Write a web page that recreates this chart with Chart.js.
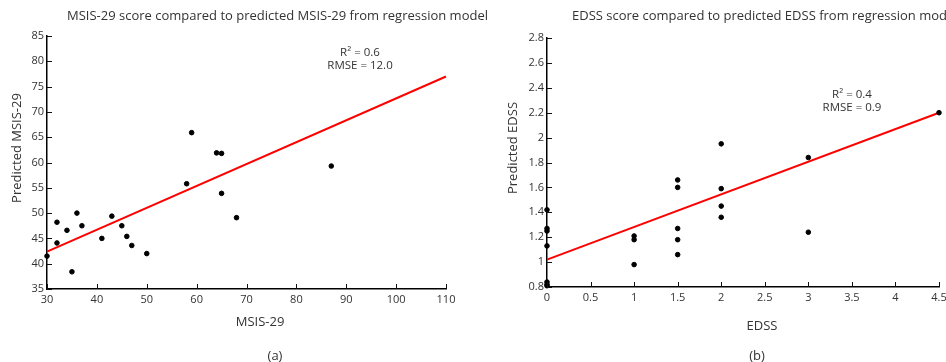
<!DOCTYPE html>
<html>
<head>
<meta charset="utf-8">
<script src="https://cdn.jsdelivr.net/npm/chart.js@4.4.0/dist/chart.umd.min.js"></script>
<style>
html,body{margin:0;padding:0;background:#fff;overflow:hidden;width:946px;height:362px;}
#left{position:absolute;left:0;top:0;}
#right{position:absolute;left:470px;top:0;}
</style>
</head>
<body>
<canvas id="left" width="500" height="362" style="width:500px;height:362px"></canvas>
<canvas id="right" width="490" height="362" style="width:490px;height:362px"></canvas>
<script>
// (a) MSIS-29: actual vs predicted
var msisActual = [30, 32, 32, 34, 35, 36, 37, 41, 43, 45, 46, 47, 50, 58, 59, 64, 65, 65, 68, 87];
var msisPredicted = [41.5, 48.2, 44.1, 46.6, 38.4, 50, 47.5, 45, 49.4, 47.5, 45.4, 43.6, 42, 55.8, 65.9, 61.9, 61.8, 53.9, 49.1, 59.3];
var msisFitX = [30, 110];
var msisFitY = [42.4, 77];

// (b) EDSS: actual vs predicted
var edssActual = [0, 0, 0, 0, 0, 0, 0, 1, 1, 1, 1.5, 1.5, 1.5, 1.5, 1.5, 2, 2, 2, 2, 3, 3, 4.5];
var edssPredicted = [1.42, 1.27, 1.25, 1.13, 0.84, 0.82, 0.81, 1.21, 1.18, 0.98, 1.66, 1.60, 1.27, 1.18, 1.06, 1.95, 1.59, 1.45, 1.36, 1.84, 1.24, 2.2];
var edssFitX = [0, 4.5];
var edssFitY = [1.02, 2.2];

var FONT = '"Open Sans", sans-serif';
var TEXT = '#333';

function pts(xs, ys) {
    var out = [];
    for (var i = 0; i < xs.length; i++) out.push({x: xs[i], y: ys[i]});
    return out;
}

// plain numbers: 1 not 1.0
function fmt(v) {
    return String(parseFloat(Number(v).toFixed(2)));
}

// draws inward ticks, titles and the R2/RMSE note
function decorPlugin(cfg) {
    return {
        id: 'decor',
        afterDraw: function (chart) {
            var c = chart.ctx, a = chart.chartArea;
            var sx = chart.scales.x, sy = chart.scales.y;
            c.save();
            c.strokeStyle = '#111';
            c.lineWidth = 1;
            sx.ticks.forEach(function (t) {
                var px = Math.round(sx.getPixelForValue(t.value)) + 0.5;
                c.beginPath(); c.moveTo(px, a.bottom); c.lineTo(px, a.bottom - 5); c.stroke();
            });
            sy.ticks.forEach(function (t) {
                var py = Math.round(sy.getPixelForValue(t.value)) + 0.5;
                c.beginPath(); c.moveTo(a.left, py); c.lineTo(a.left + 5, py); c.stroke();
            });

            c.fillStyle = TEXT;
            c.textBaseline = 'middle';
            c.font = '13px ' + FONT;
            c.textAlign = 'left';
            c.fillText(cfg.title, cfg.titleX, 16);

            c.textAlign = 'center';
            c.font = '13px ' + FONT;
            c.fillText(cfg.xTitle, cfg.xTitleX, cfg.xTitleY);
            c.fillText(cfg.tag, cfg.tagX, 356);

            c.font = '11.5px ' + FONT;
            c.fillText(cfg.note[0], cfg.noteX, cfg.noteY);
            c.fillText(cfg.note[1], cfg.noteX, cfg.noteY + 13);

            c.save();
            c.translate(cfg.yTitleX, 148);
            c.rotate(-Math.PI / 2);
            c.font = '13px ' + FONT;
            c.fillText(cfg.yTitle, 0, 0);
            c.restore();
            c.restore();
        }
    };
}

function makeChart(id, d) {
    return new Chart(document.getElementById(id), {
        type: 'scatter',
        data: {
            datasets: [{
                data: pts(d.fitX, d.fitY),
                showLine: true,
                borderColor: '#ff0000',
                borderWidth: 2,
                pointRadius: 0,
                order: 2
            }, {
                data: pts(d.xs, d.ys),
                backgroundColor: '#000',
                borderColor: '#000',
                pointRadius: 2.3,
                order: 1
            }]
        },
        options: {
            responsive: false,
            animation: false,
            clip: false,
            layout: {padding: d.padding},
            plugins: {legend: {display: false}, tooltip: {enabled: false}},
            scales: {
                x: {
                    type: 'linear', min: d.xMin, max: d.xMax,
                    grid: {display: false, drawTicks: false},
                    border: {display: true, color: '#000', width: 1.5},
                    ticks: {stepSize: d.xStep, color: TEXT, padding: 4, font: {family: FONT, size: 11}, maxRotation: 0, callback: fmt},
                    afterFit: function (s) { s.height = d.xH; }
                },
                y: {
                    min: d.yMin, max: d.yMax,
                    grid: {display: false, drawTicks: false},
                    border: {display: true, color: '#000', width: 1.5},
                    ticks: {stepSize: d.yStep, color: TEXT, padding: 3, font: {family: FONT, size: 11}, callback: fmt},
                    afterFit: function (s) { s.width = d.yW; }
                }
            }
        },
        plugins: [decorPlugin(d.text)]
    });
}

makeChart('left', {
    xs: msisActual, ys: msisPredicted, fitX: msisFitX, fitY: msisFitY,
    xMin: 30, xMax: 110, xStep: 10, yMin: 35, yMax: 85, yStep: 5,
    padding: {left: 0, top: 36, right: 54, bottom: 0}, yW: 47, xH: 73,
    text: {
        title: 'MSIS-29 score compared to predicted MSIS-29 from regression model', titleX: 67,
        xTitle: 'MSIS-29', xTitleX: 260, xTitleY: 322,
        yTitle: 'Predicted MSIS-29', yTitleX: 17,
        tag: '(a)', tagX: 275,
        note: ['R\u00b2 = 0.6', 'RMSE = 12.0'], noteX: 360, noteY: 53
    }
});

makeChart('right', {
    xs: edssActual, ys: edssPredicted, fitX: edssFitX, fitY: edssFitY,
    xMin: 0, xMax: 4.5, xStep: 0.5, yMin: 0.8, yMax: 2.8, yStep: 0.2,
    padding: {left: 0, top: 38, right: 21, bottom: 0}, yW: 77, xH: 75,
    text: {
        title: 'EDSS score compared to predicted EDSS from regression model', titleX: 102,
        xTitle: 'EDSS', xTitleX: 292, xTitleY: 326,
        yTitle: 'Predicted EDSS', yTitleX: 43,
        tag: '(b)', tagX: 287,
        note: ['R\u00b2 = 0.4', 'RMSE = 0.9'], noteX: 382, noteY: 95
    }
});
</script>
</body>
</html>
